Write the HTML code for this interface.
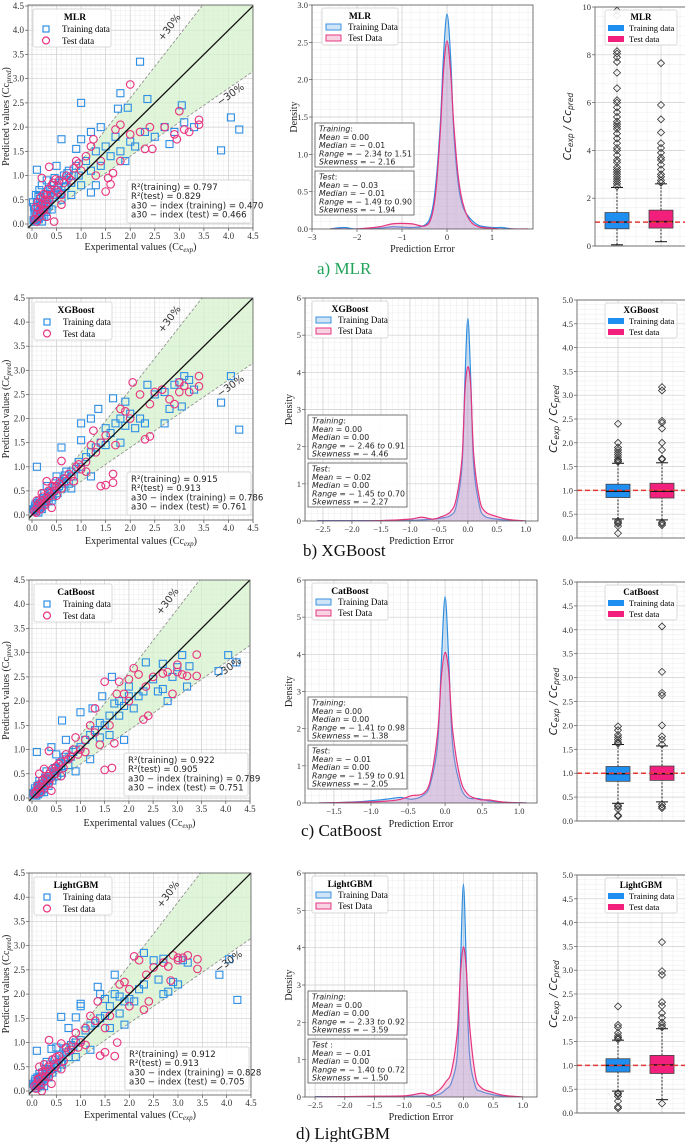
<!DOCTYPE html>
<html><head><meta charset="utf-8">
<style>
html,body{margin:0;padding:0;background:#fff;}
svg{display:block;}
text{font-family:"Liberation Serif",serif;}
.sans{font-family:"DejaVu Sans","Liberation Sans",sans-serif;}
</style></head>
<body>
<svg id="fig" width="685" height="1142" viewBox="0 0 685 1142" xmlns="http://www.w3.org/2000/svg"></svg>
<script>
// ---------- DATA ----------
const modelNames = ['MLR','XGBoost','CatBoost','LightGBM'];
const captions = ['a) MLR','b) XGBoost','c) CatBoost','d) LightGBM'];
const r2Train = ['0.797','0.915','0.922','0.912'];
const r2Test = ['0.829','0.913','0.905','0.913'];
const a30Train = ['0.470','0.786','0.789','0.828'];
const a30Test = ['0.466','0.761','0.751','0.705'];

const scTrainMLR = [[0.05,0.05],[0.08,0.15],[0.1,0.1],[0.12,0.3],[0.15,0.2],[0.18,0.4],[0.2,0.25],[0.22,0.5],[0.25,0.35],[0.28,0.6],[0.3,0.45],[0.1,0.45],[0.05,0.2],[0.15,0.7],[0.35,0.5],[0.4,0.7],[0.45,0.8],[0.5,0.6],[0.55,0.85],[0.6,0.7],[0.65,1.0],[0.7,0.9],[0.75,1.1],[0.8,0.85],[0.9,1.2],[0.95,1.0],[1.0,0.8],[1.1,1.3],[1.2,1.1],[1.3,1.5],[1.4,1.2],[1.5,1.6],[1.6,1.4],[1.7,1.8],[1.8,1.5],[1.9,1.3],[2.0,1.7],[2.1,1.6],[2.3,1.9],[2.5,1.8],[2.7,2.0],[2.9,1.9],[3.1,2.1],[3.3,2.0],[3.05,2.45],[2.35,2.58],[1.95,2.4],[1.8,2.7],[1.75,2.38],[2.2,3.35],[1.0,2.5],[0.6,1.75],[0.1,1.12],[0.9,1.55],[1.0,1.75],[1.2,1.9],[1.4,2.0],[3.85,1.52],[4.05,2.2],[4.22,1.95],[2.8,1.65],[1.2,0.65],[1.3,0.8],[0.5,1.2],[0.3,0.9],[0.02,0.45],[0.2,0.8],[0.08,0.6],[0.4,0.3],[0.6,0.5],[0.8,0.6],[0.2,0.05],[0.12,0.12],[0.18,0.22],[0.25,0.15],[0.3,0.3],
 [0.03,0.08],[0.06,0.3],[0.09,0.22],[0.11,0.38],[0.14,0.1],[0.16,0.52],[0.19,0.32],[0.21,0.15],[0.23,0.42],[0.26,0.55],[0.29,0.25],[0.32,0.62],[0.34,0.38],[0.37,0.72],[0.42,0.55],[0.46,0.95],[0.52,0.75],[0.58,0.62],[0.62,0.9],[0.68,0.78],[0.72,1.05],[0.85,1.0],[0.13,0.58],[0.07,0.05],[0.04,0.35]];
const scTestMLR = [[0.05,0.1],[0.1,0.2],[0.15,0.3],[0.2,0.4],[0.25,0.3],[0.3,0.6],[0.35,0.5],[0.4,0.8],[0.45,0.05],[0.5,0.7],[0.55,0.9],[0.6,0.6],[0.7,1.0],[0.8,0.9],[0.9,1.3],[1.0,1.1],[1.1,1.4],[1.2,1.6],[1.25,1.75],[1.3,1.0],[1.4,1.3],[1.5,0.67],[1.55,0.95],[1.6,0.82],[1.65,1.05],[1.7,1.95],[1.8,2.05],[1.8,1.3],[2.0,2.88],[2.0,1.85],[2.2,1.9],[2.3,1.55],[2.45,1.55],[2.4,2.0],[2.7,2.0],[2.9,1.85],[2.95,1.75],[3.0,2.33],[3.1,1.95],[3.2,1.9],[3.4,2.15],[3.4,2.05],[0.35,1.18],[0.2,0.95],[0.1,0.05],[0.08,0.35],[0.3,0.15],[0.6,0.4],[0.15,0.15],[0.22,0.28],
 [0.12,0.45],[0.18,0.55],[0.24,0.62],[0.28,0.42],[0.33,0.72],[0.38,0.6],[0.43,0.85],[0.48,0.92],[0.53,0.65],[0.65,0.85],[0.75,0.95],[0.85,1.15],[0.95,1.25],[0.17,0.22],[0.27,0.5]];
const scTrainXGB = [[0.05,0.1],[0.08,0.15],[0.1,0.12],[0.12,0.2],[0.15,0.18],[0.18,0.25],[0.2,0.2],[0.22,0.3],[0.25,0.28],[0.28,0.35],[0.3,0.3],[0.35,0.4],[0.4,0.45],[0.45,0.5],[0.5,0.55],[0.55,0.6],[0.6,0.65],[0.65,0.7],[0.7,0.75],[0.8,0.9],[0.9,0.95],[0.95,1.1],[1.0,1.0],[1.1,1.2],[1.2,1.3],[1.3,1.4],[1.4,1.5],[1.5,1.45],[1.6,1.7],[1.7,1.9],[1.8,2.0],[1.9,1.85],[2.0,2.1],[2.2,2.0],[2.3,1.9],[2.5,2.5],[2.7,2.55],[2.9,2.7],[3.0,2.75],[3.1,2.88],[3.2,2.8],[3.3,2.6],[2.7,1.9],[3.05,2.25],[2.8,2.2],[3.85,2.33],[4.05,2.88],[4.22,1.77],[1.0,1.9],[1.2,2.0],[1.35,2.2],[1.65,2.42],[0.6,1.4],[0.1,1.0],[1.0,1.55],[0.3,0.6],[0.5,0.8],[0.8,0.55],[1.2,0.8],[1.8,1.5],[2.1,1.8],[1.5,1.8],[0.2,0.12],[0.4,0.3],[0.7,0.9],[1.9,2.35],[2.35,2.7],[0.15,0.3],[0.25,0.45],
 [0.03,0.12],[0.06,0.18],[0.09,0.08],[0.11,0.25],[0.14,0.13],[0.17,0.3],[0.19,0.16],[0.21,0.24],[0.24,0.35],[0.27,0.22],[0.32,0.38],[0.34,0.28],[0.37,0.48],[0.42,0.38],[0.47,0.58],[0.52,0.45],[0.57,0.7],[0.62,0.55],[0.67,0.82],[0.75,0.65],[0.85,0.8],[0.07,0.22],[0.13,0.05]];
const scTestXGB = [[0.05,0.08],[0.1,0.15],[0.15,0.25],[0.2,0.3],[0.25,0.2],[0.3,0.35],[0.35,0.45],[0.4,0.15],[0.45,0.5],[0.5,0.6],[0.6,1.12],[0.6,0.55],[0.7,0.7],[0.8,0.8],[0.9,1.0],[1.0,0.95],[1.1,1.1],[1.2,1.45],[1.25,1.75],[1.3,1.3],[1.4,1.5],[1.4,0.6],[1.5,0.62],[1.65,0.85],[1.65,0.67],[1.7,1.45],[1.8,2.2],[1.9,2.15],[2.05,2.75],[2.2,2.5],[2.3,1.57],[2.4,1.63],[2.4,2.3],[2.5,2.55],[2.65,2.6],[2.8,2.4],[2.9,2.3],[3.0,2.75],[3.0,2.55],[3.1,2.68],[3.2,2.55],[3.4,2.88],[3.4,2.67],[1.1,0.9],[1.5,1.65],[2.0,2.0],[0.3,0.7],[0.2,0.45],[0.1,0.3],[0.5,0.4],
 [0.12,0.2],[0.17,0.12],[0.22,0.38],[0.28,0.27],[0.33,0.5],[0.38,0.4],[0.42,0.6],[0.48,0.7],[0.55,0.65],[0.65,0.75],[0.75,0.85],[0.85,0.7],[0.95,1.05],[0.08,0.05]];
const scTrainCat = [[0.05,0.08],[0.08,0.12],[0.1,0.1],[0.12,0.18],[0.15,0.15],[0.18,0.22],[0.2,0.2],[0.22,0.3],[0.25,0.25],[0.28,0.35],[0.3,0.3],[0.35,0.4],[0.4,0.45],[0.45,0.5],[0.5,0.55],[0.55,0.6],[0.6,0.65],[0.7,0.8],[0.8,0.85],[0.9,1.0],[1.0,1.05],[1.1,1.2],[1.2,1.3],[1.3,1.4],[1.4,1.55],[1.5,1.5],[1.6,1.7],[1.7,1.95],[1.8,2.0],[1.9,1.9],[2.0,2.1],[2.2,2.1],[2.3,2.2],[2.5,2.45],[2.7,2.25],[2.8,2.0],[2.9,2.5],[3.0,2.7],[3.1,2.95],[3.2,2.3],[3.25,2.72],[2.35,2.8],[2.7,2.77],[3.85,2.62],[4.05,2.95],[4.22,2.8],[1.0,1.77],[1.25,1.85],[1.45,2.1],[1.65,2.5],[0.62,1.6],[0.1,0.95],[0.4,1.05],[1.9,1.2],[1.2,0.8],[0.9,0.55],[1.6,1.3],[2.1,1.85],[0.3,0.55],[0.5,0.9],[0.7,1.2],[1.4,1.25],[2.0,2.3],[0.15,0.35],[0.25,0.12],[2.6,2.2],[1.8,1.7],
 [0.03,0.1],[0.06,0.2],[0.09,0.05],[0.11,0.25],[0.14,0.2],[0.17,0.28],[0.19,0.12],[0.21,0.35],[0.24,0.18],[0.27,0.42],[0.32,0.36],[0.34,0.25],[0.37,0.5],[0.42,0.36],[0.47,0.62],[0.52,0.45],[0.57,0.72],[0.62,0.52],[0.67,0.85],[0.75,0.68],[0.85,0.95],[0.07,0.15],[0.13,0.08]];
const scTestCat = [[0.05,0.1],[0.1,0.15],[0.15,0.2],[0.2,0.3],[0.25,0.2],[0.3,0.4],[0.35,0.3],[0.4,0.15],[0.45,0.55],[0.5,0.65],[0.6,0.75],[0.35,0.97],[0.7,0.9],[0.8,0.85],[0.9,1.25],[1.0,1.0],[1.1,1.2],[1.2,1.5],[1.3,1.35],[1.4,1.1],[1.5,0.58],[1.65,0.62],[1.7,1.13],[1.5,2.4],[1.8,2.4],[1.9,2.15],[2.0,2.45],[2.1,2.68],[2.2,2.55],[2.3,1.62],[2.4,1.7],[2.35,2.3],[2.5,2.5],[2.7,2.57],[2.8,2.6],[2.9,2.15],[3.0,2.75],[3.0,2.6],[3.1,2.55],[3.2,2.52],[3.4,2.96],[3.4,2.52],[1.1,0.95],[1.6,1.5],[2.0,2.0],[0.25,0.6],[0.15,0.5],[0.6,0.45],[1.3,1.85],[1.75,2.15],
 [0.12,0.25],[0.17,0.12],[0.22,0.38],[0.28,0.27],[0.33,0.45],[0.38,0.4],[0.42,0.6],[0.48,0.5],[0.55,0.7],[0.65,0.62],[0.75,0.8],[0.85,1.0],[0.95,0.9],[0.08,0.08]];
const scTrainLGB = [[0.05,0.1],[0.08,0.15],[0.1,0.12],[0.12,0.18],[0.15,0.15],[0.18,0.22],[0.2,0.2],[0.22,0.3],[0.25,0.25],[0.28,0.35],[0.3,0.3],[0.35,0.45],[0.4,0.45],[0.45,0.5],[0.5,0.55],[0.55,0.65],[0.6,0.6],[0.7,0.8],[0.8,0.95],[0.9,1.0],[1.0,1.05],[1.1,1.25],[1.2,1.35],[1.3,1.4],[1.4,1.5],[1.5,1.55],[1.6,1.75],[1.7,2.0],[1.8,1.6],[1.9,1.85],[2.0,1.9],[2.1,1.85],[2.3,2.2],[2.5,2.7],[2.6,2.3],[2.7,2.0],[2.8,2.05],[2.9,2.25],[3.0,2.2],[3.1,2.7],[3.2,2.65],[2.3,2.85],[2.7,2.73],[3.85,2.4],[4.05,2.72],[4.22,1.88],[1.0,1.8],[1.0,1.75],[1.35,2.15],[1.4,2.0],[1.7,2.4],[0.6,1.53],[0.9,1.52],[0.75,1.3],[0.1,0.83],[0.4,0.87],[1.9,1.37],[1.2,0.85],[0.9,0.7],[1.6,1.3],[0.3,0.6],[0.5,0.9],[1.5,1.9],[0.15,0.35],[0.25,0.1],[2.2,2.1],[1.8,1.95],
 [0.03,0.15],[0.06,0.2],[0.09,0.06],[0.11,0.28],[0.14,0.22],[0.17,0.3],[0.19,0.12],[0.21,0.38],[0.24,0.2],[0.27,0.45],[0.32,0.4],[0.34,0.28],[0.37,0.55],[0.42,0.38],[0.47,0.65],[0.52,0.48],[0.57,0.75],[0.62,0.55],[0.67,0.88],[0.75,0.7],[0.85,0.92],[0.07,0.25],[0.13,0.1]];
const scTestLGB = [[0.05,0.1],[0.1,0.15],[0.15,0.25],[0.2,0.3],[0.2,0.0],[0.25,0.2],[0.3,0.4],[0.35,0.3],[0.4,0.15],[0.45,0.55],[0.5,0.7],[0.6,0.98],[0.35,1.05],[0.7,0.9],[0.8,0.85],[0.9,1.2],[1.0,1.0],[1.1,1.3],[1.2,1.55],[1.3,1.45],[1.4,0.73],[1.5,0.8],[1.7,0.72],[1.75,1.0],[1.5,1.3],[1.8,2.2],[1.9,2.25],[2.0,1.75],[2.1,2.78],[2.2,2.7],[2.3,1.68],[2.4,1.85],[2.35,2.4],[2.5,2.55],[2.7,2.65],[2.8,2.57],[2.9,2.8],[3.0,2.75],[3.0,2.7],[3.1,2.75],[3.2,2.8],[3.4,2.72],[3.4,2.52],[1.1,0.95],[1.6,1.55],[2.0,2.1],[0.25,0.55],[0.15,0.5],[0.6,0.45],[1.35,1.85],[2.85,2.28],
 [0.12,0.25],[0.17,0.12],[0.22,0.4],[0.28,0.3],[0.33,0.5],[0.38,0.42],[0.42,0.65],[0.48,0.5],[0.55,0.72],[0.65,0.62],[0.75,0.82],[0.85,1.05],[0.95,0.9],[0.08,0.05]];
const scTrain = [scTrainMLR, scTrainXGB, scTrainCat, scTrainLGB];
const scTest = [scTestMLR, scTestXGB, scTestCat, scTestLGB];

const denX = [
 [-2.6,-2.3,-2.0,-1.5,-1.2,-0.8,-0.5,-0.35,-0.25,-0.15,-0.08,0,0.08,0.15,0.25,0.35,0.5,0.7,1.0,1.2,1.5,1.8],
 [-2.6,-2.0,-1.5,-1.0,-0.8,-0.6,-0.45,-0.3,-0.2,-0.1,-0.05,0,0.05,0.1,0.2,0.3,0.5,0.7,1.0],
 [-1.7,-1.2,-0.8,-0.6,-0.45,-0.3,-0.2,-0.1,-0.05,0,0.05,0.1,0.2,0.3,0.45,0.6,0.8,1.1],
 [-2.5,-1.5,-1.0,-0.7,-0.55,-0.4,-0.3,-0.2,-0.1,-0.05,0,0.05,0.1,0.2,0.3,0.5,0.7,1.0]];
const denTrain = [
 [0,0.02,0,0.01,0.03,0.02,0.05,0.2,0.6,1.4,2.3,2.88,2.3,1.3,0.6,0.3,0.15,0.05,0.02,0.02,0,0],
 [0.01,0.01,0.01,0.02,0.03,0.05,0.08,0.15,0.4,1.5,3.8,5.45,3.8,1.5,0.4,0.12,0.05,0.02,0],
 [0,0.03,0.1,0.15,0.1,0.2,0.5,1.6,3.8,5.55,3.8,1.6,0.5,0.15,0.12,0.05,0.02,0],
 [0.01,0.01,0.02,0.02,0.03,0.08,0.2,0.4,1.2,3.5,5.7,3.5,1.2,0.3,0.15,0.06,0.02,0]];
const denTest = [
 [0,0,0,0.03,0.07,0.07,0.04,0.15,0.5,1.3,2.1,2.52,2.1,1.4,0.7,0.35,0.12,0.03,0.01,0,0,0],
 [0,0,0.01,0.05,0.1,0.05,0.12,0.25,0.6,1.7,3.5,4.15,3.6,1.8,0.6,0.25,0.12,0.04,0],
 [0,0.02,0.05,0.1,0.2,0.25,0.6,1.9,3.4,4.05,3.5,2.0,0.7,0.25,0.1,0.08,0.02,0],
 [0,0.02,0.03,0.1,0.05,0.2,0.4,0.7,1.8,3.3,4.02,3.4,2.0,0.6,0.25,0.12,0.04,0]];
const statTrain = [
 ['0.00','\u2212 0.01','\u2212 2.34','1.51','\u2212 2.16'],
 ['0.00','0.00','\u2212 2.46','0.91','\u2212 4.46'],
 ['0.00','0.00','\u2212 1.41','0.98','\u2212 1.38'],
 ['0.00','0.00','\u2212 2.33','0.92','\u2212 3.59']];
const statTest = [
 ['\u2212 0.03','\u2212 0.01','\u2212 1.49','0.90','\u2212 1.94'],
 ['\u2212 0.02','0.00','\u2212 1.45','0.70','\u2212 2.27'],
 ['\u2212 0.01','0.00','\u2212 1.59','0.91','\u2212 2.05'],
 ['\u2212 0.01','0.00','\u2212 1.40','0.72','\u2212 1.50']];

const boxTrain = [[0.05,0.72,1.0,1.4,2.45],[0.4,0.85,0.98,1.13,1.57],[0.37,0.83,0.99,1.14,1.6],[0.46,0.86,1.0,1.14,1.53]];
const boxTest = [[0.18,0.75,1.02,1.5,2.6],[0.38,0.84,0.98,1.15,1.58],[0.4,0.85,0.99,1.15,1.57],[0.28,0.83,1.01,1.21,1.77]];
const outTrain = [
 [2.5,2.6,2.7,2.8,2.9,3.0,3.1,3.2,3.3,3.5,3.6,3.8,4.0,4.1,4.3,4.5,4.7,4.9,5.0,5.1,5.2,5.4,5.6,5.8,6.0,6.1,6.6,7.25,7.7,7.9,8.05,8.15,9.65,9.85],
 [0.1,0.25,0.3,0.33,0.36,1.6,1.62,1.65,1.7,1.75,1.8,1.85,1.9,2.0,2.4],
 [0.1,0.12,0.25,0.3,0.33,1.62,1.65,1.7,1.75,1.8,1.9,1.98],
 [0.1,0.13,0.25,0.35,0.4,0.42,1.55,1.58,1.62,1.68,1.8,1.85,2.24]];
const outTest = [
 [2.65,2.75,2.9,3.0,3.2,3.4,3.6,3.7,3.9,4.1,4.3,4.75,5.3,5.9,7.65],
 [0.27,0.3,0.33,1.65,1.67,1.85,2.0,2.3,2.42,2.46,3.1,3.17],
 [0.27,0.3,0.35,1.6,1.7,1.77,2.0,2.63,2.68,3.12,4.07],
 [0.2,1.8,1.85,1.9,2.0,2.1,2.25,2.33,2.9,2.98,3.59]];

// ---------- LAYOUT ----------
const L = [
 {sc:{l:28,r:253,t:5,b:228,x0:32,x1:253,y0:224,y1:6,xl:250}, de:{l:312,r:533,t:5,b:229,xmin:-3,xmax:1.91,ymax:3,xl:252}, bx:{l:595,r:685,t:7,b:246,ymax:10}, cap:{x:317,y:274,c:'#22a35a'}},
 {sc:{l:29,r:253,t:298,b:520,x0:32,x1:253,y0:515,y1:298,xl:544}, de:{l:305,r:538,t:298,b:521,xmin:-2.81,xmax:1.21,ymax:6,xl:544}, bx:{l:577,r:685,t:300,b:538,ymax:5}, cap:{x:303,y:556,c:'#111'}},
 {sc:{l:29,r:250,t:580,b:801,x0:32,x1:250,y0:798,y1:580,xl:826}, de:{l:305,r:537,t:580,b:803,xmin:-1.89,xmax:1.24,ymax:6,xl:827}, bx:{l:577,r:685,t:582,b:821,ymax:5}, cap:{x:301,y:836,c:'#111'}},
 {sc:{l:29,r:251,t:873,b:1095,x0:32,x1:251,y0:1091,y1:873,xl:1118}, de:{l:305,r:537,t:873,b:1097,xmin:-2.67,xmax:1.24,ymax:6,xl:1120}, bx:{l:577,r:685,t:875,b:1113,ymax:5}, cap:{x:296,y:1139,c:'#111'}}];

const NS='http://www.w3.org/2000/svg';
const svg=document.getElementById('fig');
function mk(tag,attrs,parent,txt){const e=document.createElementNS(NS,tag);for(const k in attrs)e.setAttribute(k,attrs[k]);if(txt!==undefined)e.textContent=txt;(parent||svg).appendChild(e);return e;}
function fmt1(v){return v.toFixed(1);}
function smoothPath(pts){let d='M'+pts[0][0]+','+pts[0][1];for(let i=0;i<pts.length-1;i++){const p0=pts[Math.max(0,i-1)],p1=pts[i],p2=pts[i+1],p3=pts[Math.min(pts.length-1,i+2)];const c1x=p1[0]+(p2[0]-p0[0])/6,c1y=p1[1]+(p2[1]-p0[1])/6,c2x=p2[0]-(p3[0]-p1[0])/6,c2y=p2[1]-(p3[1]-p1[1])/6;d+=` C${c1x},${c1y} ${c2x},${c2y} ${p2[0]},${p2[1]}`;}return d;}

L.forEach((lay,ri)=>{
 const name=modelNames[ri];
 // ===== SCATTER =====
 const s=lay.sc;
 const g=mk('g',{});
 
 
 const sx=v=>s.x0+v*(s.x1-s.x0)/4.5, sy=v=>s.y0+v*(s.y1-s.y0)/4.5;
 const cid='clipS'+ri;
 const cp=mk('clipPath',{id:cid},g); mk('rect',{x:s.l,y:s.t,width:s.r-s.l,height:s.b-s.t},cp);
 const pg=mk('g',{'clip-path':`url(#${cid})`},g);
 for(let v=0;v<=4.5001;v+=0.1){mk('line',{x1:sx(v),x2:sx(v),y1:s.t,y2:s.b,stroke:'#ececec','stroke-width':0.5},pg);mk('line',{y1:sy(v),y2:sy(v),x1:s.l,x2:s.r,stroke:'#ececec','stroke-width':0.5},pg);}
 for(let v=0;v<=4.5001;v+=0.5){mk('line',{x1:sx(v),x2:sx(v),y1:s.t,y2:s.b,stroke:'#cfcfcf','stroke-width':0.7},pg);mk('line',{y1:sy(v),y2:sy(v),x1:s.l,x2:s.r,stroke:'#cfcfcf','stroke-width':0.7},pg);}
 const band=mk('polygon',{points:`${sx(-0.2)},${sy(-0.26)} ${sx(4.5/1.3)},${sy(4.5)} ${sx(4.6)},${sy(4.6)} ${sx(4.6)},${sy(3.22)} ${sx(-0.2)},${sy(-0.14)}`,fill:'#d6f2cc','fill-opacity':0.75},pg);
 
 
 mk('line',{x1:sx(-0.2),y1:sy(-0.26),x2:sx(4.5/1.3),y2:sy(4.5),stroke:'#888','stroke-width':0.8,'stroke-dasharray':'3,2'},pg);
 mk('line',{x1:sx(-0.2),y1:sy(-0.14),x2:sx(4.6),y2:sy(3.22),stroke:'#888','stroke-width':0.8,'stroke-dasharray':'3,2'},pg);
 scTrain[ri].forEach(p=>{const r=mk('rect',{x:sx(p[0])-3.5,y:sy(p[1])-3.5,width:7,height:7,fill:'none',stroke:'#2e8fe6','stroke-width':1.1},pg);
  });
 scTest[ri].forEach(p=>{const c=mk('circle',{cx:sx(p[0]),cy:sy(p[1]),r:3.8,fill:'none',stroke:'#e8337f','stroke-width':1.1},pg);
  });
 mk('line',{x1:sx(-0.1),y1:sy(-0.1),x2:sx(4.6),y2:sy(4.6),stroke:'#111','stroke-width':1.3},pg);
 const p1x=sx(2.85),p1y=sy(4.02);
 const t1=mk('text',{x:p1x,y:p1y,'font-size':10,fill:'#333',transform:`rotate(-53 ${p1x} ${p1y})`,'text-anchor':'middle',class:'sans'},g,'+30%');
 
 const p2x=sx(4.08),p2y=sy(2.62);
 const t2=mk('text',{x:p2x,y:p2y,'font-size':10,fill:'#333',transform:`rotate(-35 ${p2x} ${p2y})`,'text-anchor':'middle',class:'sans'},g,'\u221230%');
 
 mk('rect',{x:s.l,y:s.t,width:s.r-s.l,height:s.b-s.t,fill:'none',stroke:'#555','stroke-width':0.8},g);
 for(let v=0;v<=4.5001;v+=0.5){
  mk('line',{x1:sx(v),x2:sx(v),y1:s.b,y2:s.b+3,stroke:'#555','stroke-width':0.7},g);
  mk('text',{x:sx(v),y:s.b+11,'font-size':9,'text-anchor':'middle',fill:'#333'},g,fmt1(v));
  mk('line',{x1:s.l-3,x2:s.l,y1:sy(v),y2:sy(v),stroke:'#555','stroke-width':0.7},g);
  mk('text',{x:s.l-4,y:sy(v)+3,'font-size':9,'text-anchor':'end',fill:'#333'},g,fmt1(v));
 }
 const xlab=mk('text',{x:(s.l+s.r)/2,y:s.xl,'font-size':10,'text-anchor':'middle',fill:'#222'},g);
 
 xlab.innerHTML='Experimental values (Cc<tspan font-style="italic" font-size="7" dy="2">exp</tspan><tspan dy="-2">)</tspan>';
 const yc=(s.t+s.b)/2;
 const ylab=mk('text',{x:9,y:yc,'font-size':10,'text-anchor':'middle',fill:'#222',transform:`rotate(-90 9 ${yc})`},g);
 
 ylab.innerHTML='Predicted values (Cc<tspan font-style="italic" font-size="7" dy="2">pred</tspan><tspan dy="-2">)</tspan>';
 const lg=mk('g',{},g);
 
 const lx=s.l+5, ly=s.t+4;
 mk('rect',{x:lx,y:ly,width:78,height:38,rx:2,fill:'#fff','fill-opacity':0.9,stroke:'#ccc','stroke-width':0.7},lg);
 mk('text',{x:lx+42,y:ly+11,'font-size':9.5,'font-weight':'bold','text-anchor':'middle'},lg,name);
 mk('rect',{x:lx+10,y:ly+17,width:6,height:6,fill:'none',stroke:'#2e8fe6','stroke-width':1.2},lg);
 mk('text',{x:lx+29,y:ly+23,'font-size':9},lg,'Training data');
 mk('circle',{cx:lx+13,cy:ly+31.5,r:3.5,fill:'none',stroke:'#e8337f','stroke-width':1.2},lg);
 mk('text',{x:lx+29,y:ly+35,'font-size':9},lg,'Test data');
 const sb=mk('g',{},g);
 
 const bx0=s.r-126, by0=s.b-48;
 mk('rect',{x:bx0,y:by0,width:124,height:43,rx:2,fill:'#fff','fill-opacity':0.9,stroke:'#ccc','stroke-width':0.7},sb);
 const lines=['R²(training) = '+r2Train[ri],'R²(test) = '+r2Test[ri],'a30 \u2212 index (training) = '+a30Train[ri],'a30 \u2212 index (test) = '+a30Test[ri]];
 lines.forEach((t,i)=>mk('text',{x:bx0+4,y:by0+10+i*9.2,'font-size':8.6,class:'sans',fill:'#222'},sb,t));

 // ===== DENSITY =====
 const d=lay.de;
 const dg=mk('g',{});
 
 
 const dx=v=>d.l+(v-d.xmin)*(d.r-d.l)/(d.xmax-d.xmin), dy=v=>d.b-v*(d.b-d.t)/d.ymax;
 const dcid='clipD'+ri;
 const dcp=mk('clipPath',{id:dcid},dg); mk('rect',{x:d.l,y:d.t,width:d.r-d.l,height:d.b-d.t},dcp);
 const dpg=mk('g',{'clip-path':`url(#${dcid})`},dg);
 const xmaj=ri===0?1:0.5, xmin=ri===0?0.2:0.1, ymaj=ri===0?0.5:1, ymn=ri===0?0.1:0.2;
 for(let v=Math.ceil(d.xmin/xmin)*xmin;v<=d.xmax;v+=xmin)mk('line',{x1:dx(v),x2:dx(v),y1:d.t,y2:d.b,stroke:'#ececec','stroke-width':0.5},dpg);
 for(let v=0;v<=d.ymax+1e-6;v+=ymn)mk('line',{x1:d.l,x2:d.r,y1:dy(v),y2:dy(v),stroke:'#ececec','stroke-width':0.5},dpg);
 const xticks=[];for(let v=Math.ceil(d.xmin/xmaj-1e-6)*xmaj;v<=d.xmax+1e-6;v+=xmaj)xticks.push(Math.round(v*10)/10);
 xticks.forEach(v=>mk('line',{x1:dx(v),x2:dx(v),y1:d.t,y2:d.b,stroke:'#cfcfcf','stroke-width':0.7},dpg));
 for(let v=0;v<=d.ymax+1e-6;v+=ymaj)mk('line',{x1:d.l,x2:d.r,y1:dy(v),y2:dy(v),stroke:'#cfcfcf','stroke-width':0.7},dpg);
 [[denTrain[ri],'#6fb3ea','#2f8de0','density-training-curve'],[denTest[ri],'#ee8ab6','#e4367f','density-test-curve']].forEach(([ys,fc,lc,nm])=>{
  const pts=denX[ri].map((x,i)=>[dx(x),dy(ys[i])]);
  const path=smoothPath(pts);
  mk('path',{d:path+` L${pts[pts.length-1][0]},${dy(0)} L${pts[0][0]},${dy(0)} Z`,fill:fc,'fill-opacity':0.32,stroke:'none'},dpg);
  const pl=mk('path',{d:path,fill:'none',stroke:lc,'stroke-width':1.2},dpg);
  
 });
 mk('rect',{x:d.l,y:d.t,width:d.r-d.l,height:d.b-d.t,fill:'none',stroke:'#555','stroke-width':0.8},dg);
 xticks.forEach(v=>{mk('line',{x1:dx(v),x2:dx(v),y1:d.b,y2:d.b+3,stroke:'#555','stroke-width':0.7},dg);
  mk('text',{x:dx(v),y:d.b+11,'font-size':8.5,'text-anchor':'middle',fill:'#333'},dg,(v<0?'\u2212':'')+(ri===0?Math.abs(v).toFixed(0):Math.abs(v).toFixed(1)));});
 for(let v=0;v<=d.ymax+1e-6;v+=ymaj){mk('line',{x1:d.l-3,x2:d.l,y1:dy(v),y2:dy(v),stroke:'#555','stroke-width':0.7},dg);
  mk('text',{x:d.l-4,y:dy(v)+3,'font-size':8.5,'text-anchor':'end',fill:'#333'},dg,ri===0?v.toFixed(1):v.toFixed(0));}
 const dxl=mk('text',{x:(d.l+d.r)/2,y:d.xl,'font-size':10,'text-anchor':'middle',fill:'#222'},dg,'Prediction Error');
 
 const dyc=(d.t+d.b)/2, dylx=ri===0?297:292;
 const dyl=mk('text',{x:dylx,y:dyc,'font-size':10,'text-anchor':'middle',fill:'#222',transform:`rotate(-90 ${dylx} ${dyc})`},dg,'Density');
 
 const dl=mk('g',{},dg);
 
 const dlx=d.l+(ri===0?10:7), dly=d.t+3;
 mk('rect',{x:dlx,y:dly,width:76,height:37,rx:2,fill:'#fff','fill-opacity':0.9,stroke:'#ccc','stroke-width':0.7},dl);
 mk('text',{x:dlx+38,y:dly+11,'font-size':9.5,'font-weight':'bold','text-anchor':'middle'},dl,name);
 mk('rect',{x:dlx+4,y:dly+16,width:15,height:6,fill:'#cfe5f7',stroke:'#3b91e0','stroke-width':1},dl);
 mk('text',{x:dlx+26,y:dly+22,'font-size':9},dl,'Training Data');
 mk('rect',{x:dlx+4,y:dly+27,width:15,height:6,fill:'#f8d3e4',stroke:'#e4367f','stroke-width':1},dl);
 mk('text',{x:dlx+26,y:dly+33,'font-size':9},dl,'Test Data');
 [[statTrain[ri],'Training',d.b-106,':'],[statTest[ri],'Test',d.b-58,ri===3?' :':':']].forEach(([st,ttl,yy,colon],k)=>{
  const sg=mk('g',{},dg);
  
  const bx=d.l+3;
  mk('rect',{x:bx,y:yy,width:99,height:44,fill:'#fff','fill-opacity':0.9,stroke:'#555','stroke-width':0.8},sg);
  const ls=[`<tspan font-style="italic">${ttl}</tspan>${colon}`,`<tspan font-style="italic">Mean</tspan> = ${st[0]}`,`<tspan font-style="italic">Median</tspan> = ${st[1]}`,`<tspan font-style="italic">Range</tspan> = ${st[2]} <tspan font-style="italic">to</tspan> ${st[3]}`,`<tspan font-style="italic">Skewness</tspan> = ${st[4]}`];
  ls.forEach((h,i)=>{const t=mk('text',{x:bx+4,y:yy+8.5+i*8.3,'font-size':7.8,class:'sans',fill:'#222'},sg);t.innerHTML=h;});
 });

 // ===== BOX =====
 const b=lay.bx;
 const bg=mk('g',{});
 
 
 const by=v=>b.b-v*(b.b-b.t)/b.ymax;
 const bcid='clipB'+ri;
 const bcp=mk('clipPath',{id:bcid},bg); mk('rect',{x:b.l,y:b.t-6,width:b.r-b.l,height:b.b-b.t+12},bcp);
 const bpg=mk('g',{'clip-path':`url(#${bcid})`},bg);
 const bmaj=ri===0?2:0.5, bmn=ri===0?0.4:0.1;
 for(let v=0;v<=b.ymax+1e-6;v+=bmn)mk('line',{x1:b.l,x2:b.r,y1:by(v),y2:by(v),stroke:'#ececec','stroke-width':0.5},bpg);
 for(let x=b.l+8;x<b.r;x+=11)mk('line',{x1:x,x2:x,y1:b.t,y2:b.b,stroke:'#ececec','stroke-width':0.5},bpg);
 for(let v=0;v<=b.ymax+1e-6;v+=bmaj)mk('line',{x1:b.l,x2:b.r,y1:by(v),y2:by(v),stroke:'#cfcfcf','stroke-width':0.7},bpg);
 const cxs=ri===0?[617,661]:[618,662];
 cxs.forEach(cx=>mk('line',{x1:cx,x2:cx,y1:b.t,y2:b.b,stroke:'#cfcfcf','stroke-width':0.7},bpg));
 [[boxTrain[ri],outTrain[ri],'#1f8ef1','box-training'],[boxTest[ri],outTest[ri],'#f2207c','box-test']].forEach(([st,outs,col,nm],k)=>{
  const cx=cxs[k], w=24;
  const bgp=mk('g',{},bpg);
  
  mk('line',{x1:cx,x2:cx,y1:by(st[0]),y2:by(st[1]),stroke:'#111','stroke-width':0.9,'stroke-dasharray':'2,1.5'},bgp);
  mk('line',{x1:cx,x2:cx,y1:by(st[3]),y2:by(st[4]),stroke:'#111','stroke-width':0.9,'stroke-dasharray':'2,1.5'},bgp);
  mk('line',{x1:cx-6,x2:cx+6,y1:by(st[0]),y2:by(st[0]),stroke:'#111','stroke-width':1},bgp);
  mk('line',{x1:cx-6,x2:cx+6,y1:by(st[4]),y2:by(st[4]),stroke:'#111','stroke-width':1},bgp);
  mk('rect',{x:cx-w/2,y:by(st[3]),width:w,height:by(st[1])-by(st[3]),fill:col,stroke:'#444','stroke-width':0.8},bgp);
  mk('line',{x1:cx-w/2,x2:cx+w/2,y1:by(st[2]),y2:by(st[2]),stroke:'#111','stroke-width':1.4},bgp);
  outs.forEach(o=>{const yy=by(o);const dm=mk('polygon',{points:`${cx},${yy-3.5} ${cx+3.5},${yy} ${cx},${yy+3.5} ${cx-3.5},${yy}`,fill:'none',stroke:'#333','stroke-width':0.8},bgp);
   });
 });
 const ref=mk('line',{x1:b.l,x2:b.r,y1:by(1),y2:by(1),stroke:'#e53935','stroke-width':1.5,'stroke-dasharray':'5,3'},bpg);
 
 mk('rect',{x:b.l,y:b.t,width:b.r-b.l+2,height:b.b-b.t,fill:'none',stroke:'#555','stroke-width':0.8},bg);
 for(let v=0;v<=b.ymax+1e-6;v+=bmaj){mk('line',{x1:b.l-3,x2:b.l,y1:by(v),y2:by(v),stroke:'#555','stroke-width':0.7},bg);
  mk('text',{x:b.l-4,y:by(v)+3,'font-size':8.5,'text-anchor':'end',fill:'#333'},bg,ri===0?v.toFixed(0):v.toFixed(1));}
 const byc=(b.t+b.b)/2, bylx=ri===0?571:557;
 const byl=mk('text',{x:bylx,y:byc,'font-size':10.5,'text-anchor':'middle',class:'sans',fill:'#222','font-style':'italic',transform:`rotate(-90 ${bylx} ${byc})`},bg);
 
 byl.innerHTML='Cc<tspan font-size="7.5" dy="2">exp</tspan><tspan dy="-2"> / Cc</tspan><tspan font-size="7.5" dy="2">pred</tspan>';
 const bl=mk('g',{},bg);
 
 const blx=605, bly=b.t+3;
 mk('rect',{x:blx,y:bly,width:72,height:35,rx:2,fill:'#fff','fill-opacity':0.9,stroke:'#ccc','stroke-width':0.7},bl);
 mk('text',{x:blx+36,y:bly+10,'font-size':9,'font-weight':'bold','text-anchor':'middle'},bl,name);
 mk('rect',{x:blx+3,y:bly+15,width:16,height:6,fill:'#1f8ef1'},bl);
 mk('text',{x:blx+24,y:bly+21,'font-size':8.5},bl,'Training data');
 mk('rect',{x:blx+3,y:bly+26,width:16,height:6,fill:'#f2207c'},bl);
 mk('text',{x:blx+24,y:bly+32,'font-size':8.5},bl,'Test data');

 const cap=mk('text',{x:lay.cap.x,y:lay.cap.y,'font-size':17,fill:lay.cap.c},svg,captions[ri]);
 
 
});
</script>
</body></html>
